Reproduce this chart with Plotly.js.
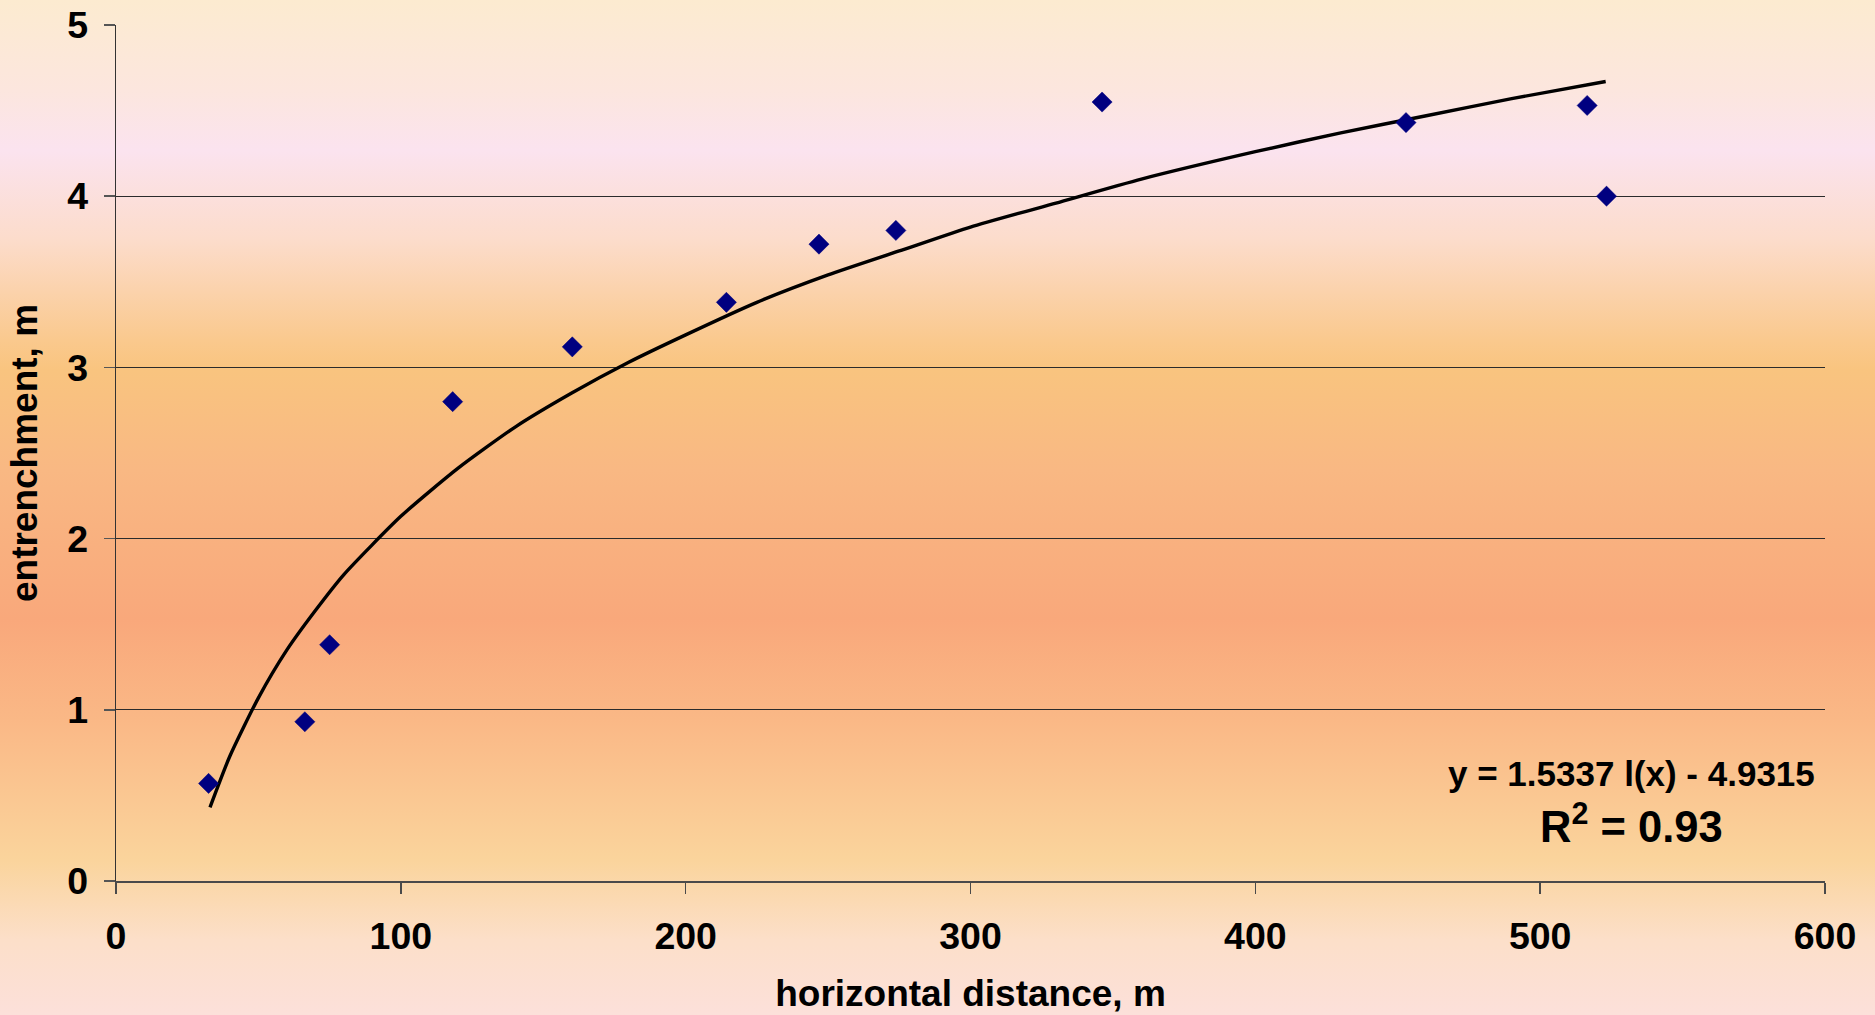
<!DOCTYPE html>
<html>
<head>
<meta charset="utf-8">
<script src="https://cdn.plot.ly/plotly-3.0.1.min.js"></script>
<style>
  html, body { margin: 0; padding: 0; }
  body {
    width: 1875px; height: 1015px; overflow: hidden;
    background: linear-gradient(to bottom,
      #FCEBD0 0px, #FCE6DE 90px, #FBE3EF 150px, #FCDCCB 240px,
      #FAC98E 340px, #F9C47F 370px, #F9B883 470px, #F9A87B 620px,
      #FAB886 720px, #FAD49C 860px, #FCDFC9 940px, #FCE0DA 1015px);
  }
  #chart { width: 1875px; height: 1015px; }
</style>
</head>
<body>
<div id="chart"></div>
<script>
// Observed points (horizontal distance, m ; entrenchment, m)
const distance = [32.5, 66.3, 75.0, 118.2, 160.2, 214.3, 246.8, 273.8, 346.2, 452.9, 516.5, 523.3];
const entrenchment = [0.57, 0.93, 1.38, 2.80, 3.12, 3.38, 3.72, 3.80, 4.55, 4.43, 4.53, 4.00];

// Logarithmic trend line
const trendX = [33, 40, 50, 60, 70, 80, 100, 120, 140, 160, 180, 200, 225, 250, 275, 300, 330, 360, 400, 430, 460, 490, 523];
const trendY = [0.43, 0.73, 1.07, 1.35, 1.58, 1.79, 2.13, 2.41, 2.65, 2.85, 3.03, 3.19, 3.38, 3.54, 3.68, 3.82, 3.96, 4.10, 4.26, 4.37, 4.47, 4.57, 4.67];

// Tick labels
const xTicks = [0, 100, 200, 300, 400, 500, 600];
const yTicks = [0, 1, 2, 3, 4, 5];

const equationText = 'y = 1.5337 l(x) - 4.9315';
const r2Text = 'R<sup>2</sup> = 0.93';

const FONT = 'Liberation Sans, Arial, Helvetica, sans-serif';

const traces = [
  {
    x: trendX, y: trendY, type: 'scatter', mode: 'lines',
    line: { color: '#000000', width: 3.4, shape: 'spline', smoothing: 0.6 },
    hoverinfo: 'skip', showlegend: false
  },
  {
    x: distance, y: entrenchment, type: 'scatter', mode: 'markers',
    marker: { symbol: 'diamond', size: 15.5, color: '#000080', line: { color: '#000080', width: 0.5 } },
    showlegend: false
  }
];

const layout = {
  width: 1875, height: 1015,
  paper_bgcolor: 'rgba(0,0,0,0)',
  plot_bgcolor: 'rgba(0,0,0,0)',
  margin: { l: 116, r: 50, t: 25, b: 134, pad: 0 },
  font: { family: FONT, color: '#000000', size: 37, weight: 'bold' },
  showlegend: false,
  xaxis: {
    range: [0, 600], tickvals: xTicks, ticktext: xTicks.map(String),
    showgrid: false, zeroline: false,
    showline: true, linecolor: '#4a4a4a', linewidth: 1.5,
    ticks: 'outside', ticklen: 11, tickwidth: 1.5, tickcolor: '#4a4a4a',
    tickfont: { family: FONT, size: 37.5, weight: 'bold', color: '#000' },
    ticklabelstandoff: 10,
    automargin: false,
    title: { text: 'horizontal distance, m', font: { family: FONT, size: 37, weight: 'bold', color: '#000' }, standoff: 24 }
  },
  yaxis: {
    range: [0, 5], tickvals: yTicks, ticktext: yTicks.map(String),
    showgrid: true, gridcolor: '#2b2b2b', gridwidth: 1,
    zeroline: false,
    showline: true, linecolor: '#333333', linewidth: 1.5,
    ticks: 'outside', ticklen: 11, tickwidth: 1.5, tickcolor: '#555555',
    tickfont: { family: FONT, size: 37.5, weight: 'bold', color: '#000' },
    ticklabelstandoff: 8,
    automargin: false,
    title: { text: 'entrenchment, m', font: { family: FONT, size: 37, weight: 'bold', color: '#000' }, standoff: 18 }
  },
  annotations: [
    {
      x: 532, y: 0.63, xref: 'x', yref: 'y', text: equationText, showarrow: false,
      xanchor: 'center', yanchor: 'middle',
      font: { family: FONT, size: 35, weight: 'bold', color: '#000' }
    },
    {
      x: 532, y: 0.335, xref: 'x', yref: 'y', text: r2Text, showarrow: false,
      xanchor: 'center', yanchor: 'middle',
      font: { family: FONT, size: 43.5, weight: 'bold', color: '#000' }
    }
  ]
};

Plotly.newPlot('chart', traces, layout, { displayModeBar: false, staticPlot: true });
</script>
</body>
</html>
